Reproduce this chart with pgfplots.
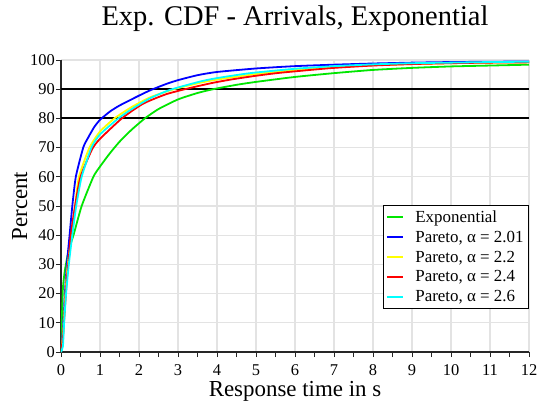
\documentclass[border=0pt]{standalone}
\usepackage{fontspec}
\setmainfont{Liberation Serif}
\usepackage{pgfplots}
\pgfplotsset{compat=1.18}

\definecolor{expgreen}{RGB}{0,230,0}
\definecolor{paretoblue}{RGB}{0,0,255}
\definecolor{paretoyellow}{RGB}{255,255,0}
\definecolor{paretored}{RGB}{255,0,0}
\definecolor{paretocyan}{RGB}{0,255,255}

\begin{document}
\begin{tikzpicture}
\begin{axis}[
  scale only axis,
  width=468bp, height=292bp,
  xmin=0, xmax=12, ymin=0, ymax=100,
  axis x line*=bottom, axis y line*=left,
  axis line style={black!85, line width=1.1bp},
  xtick={0,1,...,12}, ytick={0,10,...,100},
  minor x tick num=1,
  tick align=outside,
  major tick length=5bp, minor tick length=5bp,
  tick style={black!85, line width=0.9bp},
  grid=major,
  major grid style={black!11, line width=1.2bp},
  /pgf/number format/assume math mode=true,
  tick label style={font=\fontsize{16.5}{18}\selectfont},
  xticklabel style={anchor=base, inner sep=0pt, yshift=-18.5bp},
  yticklabel style={anchor=east, inner sep=0pt, xshift=-1bp},
  title={Exp. CDF - Arrivals, Exponential},
  title style={at={(0.5,1.0983)}, anchor=base, inner sep=0pt,
    font=\fontsize{28.6}{30}\selectfont},
  xlabel={Response time in s},
  xlabel style={at={(0.5,-0.1507)}, anchor=base, inner sep=0pt,
    font=\fontsize{23}{26}\selectfont},
  ylabel={Percent},
  ylabel style={at={(-0.0726,0.5)}, anchor=base, inner sep=0pt,
    font=\fontsize{23}{26}\selectfont},
  legend style={at={(1,0.503)}, anchor=north east,
    draw=black, line width=0.8bp, fill=white,
    font=\fontsize{17}{18}\selectfont,
    inner xsep=3bp, inner ysep=3bp, row sep=3.2bp, column sep=9bp},
  legend cell align=left,
  legend image code/.code={%
    \draw[#1, line width=2bp] (0bp,0bp) -- (16bp,0bp);},
  every axis plot/.append style={line width=1.8bp, smooth, tension=0.35},
]
% reference levels at 80 % and 90 %
\addplot[black, line width=1.9bp, sharp plot, forget plot] coordinates {(0,80) (12,80)};
\addplot[black, line width=1.9bp, sharp plot, forget plot] coordinates {(0,90) (12,90)};

\addplot[expgreen] coordinates {
 (0,0) (0.02,10) (0.05,22) (0.1,28) (0.2,35) (0.32,40) (0.53,50) (0.83,60)
 (1.0,63.5) (1.25,68) (1.5,72) (1.8,76) (2.15,80) (2.5,83.2) (3,86.5)
 (3.5,88.7) (3.9,90) (4.5,91.5) (5,92.5) (6,94.2) (7,95.5) (8,96.6)
 (9,97.3) (10,97.8) (11,98.1) (12,98.4)};
\addlegendentry{Exponential}

\addplot[paretoblue] coordinates {
 (0,0) (0.05,8) (0.1,20) (0.15,30) (0.22,40) (0.29,50) (0.38,60) (0.57,70)
 (0.7,73.5) (0.85,77) (1.0,79.5) (1.25,82.3) (1.5,84.4) (2,87.8) (2.3,89.7)
 (2.7,91.8) (3,93.1) (3.5,94.8) (4,95.9) (5,97.1) (6,97.9) (7,98.4)
 (8,98.8) (9,99.1) (10,99.3) (11,99.4) (12,99.5)};
\addlegendentry{Pareto, α = 2.01}

\addplot[paretoyellow] coordinates {
 (0,0) (0.05,6) (0.1,17) (0.15,27) (0.2,33) (0.27,40) (0.36,50) (0.46,60)
 (0.73,70) (1.0,75.5) (1.37,80) (1.8,83.8) (2.3,87.3) (2.9,90) (3.5,92)
 (4,93.3) (5,95.2) (6,96.6) (7,97.5) (8,98.2) (9,98.6) (10,98.9)
 (11,99.1) (12,99.2)};
\addlegendentry{Pareto, α = 2.2}

\addplot[paretored] coordinates {
 (0,0) (0.05,5) (0.1,15) (0.15,25) (0.2,32) (0.25,40) (0.36,50) (0.5,60)
 (0.8,69.5) (1.0,73) (1.56,80) (2.1,85) (2.7,88.3) (3.3,90.4) (3.9,92.2)
 (4.4,93.4) (5,94.6) (5.6,95.6) (6.9,97.2) (8,98.1) (9,98.6) (10,98.9)
 (11,99.1) (12,99.2)};
\addlegendentry{Pareto, α = 2.4}

\addplot[paretocyan] coordinates {
 (0,0) (0.05,2) (0.08,10) (0.13,20) (0.2,30) (0.29,40) (0.39,50) (0.53,60)
 (0.78,70) (1.0,74.5) (1.47,80) (1.85,83.5) (2.3,87) (2.8,89.8) (3.56,92.6)
 (4,93.8) (4.85,95.5) (6,97) (7,97.9) (8,98.5) (9,98.9) (10,99.1)
 (11,99.3) (12,99.4)};
\addlegendentry{Pareto, α = 2.6}
\end{axis}
\pgfresetboundingbox
\path[use as bounding box] (current axis.origin) ++(-61bp,-53bp) rectangle ++(539bp,405bp);
\end{tikzpicture}
\end{document}
